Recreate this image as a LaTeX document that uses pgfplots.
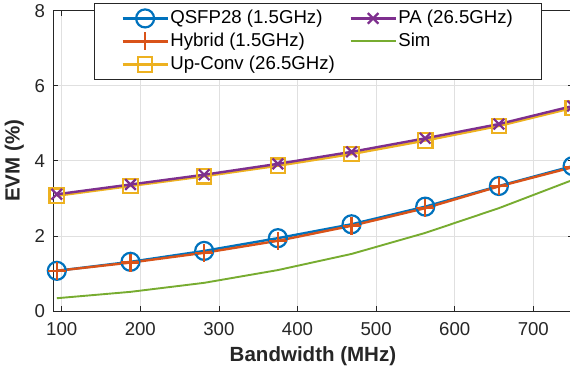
\documentclass[border=0pt]{standalone}
\usepackage{pgfplots}
\pgfplotsset{compat=1.18}
\usepackage{fontspec}
\setmainfont{Liberation Sans}

\definecolor{mblue}{rgb}{0,0.447,0.741}
\definecolor{morange}{rgb}{0.850,0.325,0.098}
\definecolor{myellow}{rgb}{0.929,0.694,0.125}
\definecolor{mpurple}{rgb}{0.494,0.184,0.556}
\definecolor{mgreen}{rgb}{0.466,0.674,0.188}
\definecolor{axgray}{rgb}{0.15,0.15,0.15}
\definecolor{gridgray}{rgb}{0.88,0.88,0.88}

\pgfplotstableread{
x      qsfp  hybrid upconv pa    sim
93.75  1.07  1.07   3.07   3.11  0.34
187.5  1.31  1.29   3.33   3.37  0.51
281.25 1.60  1.55   3.59   3.63  0.75
375    1.94  1.87   3.87   3.92  1.09
468.75 2.31  2.27   4.18   4.24  1.52
562.5  2.78  2.74   4.54   4.60  2.08
656.25 3.33  3.32   4.93   4.98  2.74
750    3.86  3.83   5.41   5.46  3.49
}\evmdata

\begin{document}
\fontsize{18.7pt}{22pt}\selectfont
\begin{tikzpicture}
\begin{axis}[
  scale only axis,
  width=519.3bp, height=300.3bp,
  xmin=89.3, xmax=750, ymin=0, ymax=8,
  xtick={100,200,...,700}, ytick={0,2,4,6,8},
  grid=major,
  major grid style={color=gridgray, line width=0.7bp},
  axis line style={color=axgray, line width=0.8bp},
  tick style={color=axgray, line width=0.8bp},
  tick align=inside, major tick length=5bp,
  /pgf/number format/assume math mode=true,
  ticklabel style={color=axgray, font=\fontsize{18.7pt}{22pt}\selectfont},
  xticklabel style={yshift=-5bp},
  yticklabel style={xshift=-2bp},
  xlabel={Bandwidth (MHz)}, ylabel={EVM (\%)},
  label style={font=\fontsize{20.6pt}{24pt}\selectfont\bfseries, color=axgray},
  xlabel style={yshift=2bp},
  ylabel style={yshift=-2bp},
  legend columns=2,
  legend cell align=left,
  legend image code/.code={%
    \draw[mark repeat=2, mark phase=2] plot coordinates {(0bp,0bp) (22.5bp,0bp) (45bp,0bp)};},
  legend style={
    at={(0.0784,1.0256)}, anchor=north west,
    draw=axgray, line width=0.8bp, fill=white,
    font=\fontsize{18.7pt}{22pt}\selectfont,
    inner xsep=27bp, inner ysep=3.5bp,
    nodes={inner sep=1.5bp, text height=15bp, text depth=5bp},
    /tikz/every even column/.append style={column sep=13bp},
  },
]
\coordinate (sw) at (rel axis cs:0,0);
\coordinate (ne) at (rel axis cs:1,1);

\addplot[forget plot, mblue, line width=2.4bp, mark=o, mark size=9bp,
  mark options={line width=2.2bp}] table[x=x, y=qsfp] {\evmdata};
\addplot[forget plot, morange, line width=2.4bp, mark=+, mark size=9bp,
  mark options={line width=2.2bp}] table[x=x, y=hybrid] {\evmdata};
\addplot[forget plot, myellow, line width=2.4bp, mark=square, mark size=7.2bp,
  mark options={line width=2.2bp}] table[x=x, y=upconv] {\evmdata};
\addplot[forget plot, mpurple, line width=2.4bp, mark=x, mark size=7.5bp,
  mark options={line width=2.2bp}] table[x=x, y=pa] {\evmdata};
\addplot[forget plot, mgreen, line width=1.9bp] table[x=x, y=sim] {\evmdata};

% legend entries, filled row by row
\addlegendimage{mblue, line width=2.4bp, mark=o, mark size=9bp, mark options={line width=2.2bp}}
\addlegendentry{QSFP28 (1.5GHz)}
\addlegendimage{mpurple, line width=2.4bp, mark=x, mark size=7.5bp, mark options={line width=2.2bp}}
\addlegendentry{PA (26.5GHz)}
\addlegendimage{morange, line width=2.4bp, mark=+, mark size=9bp, mark options={line width=2.2bp}}
\addlegendentry{Hybrid (1.5GHz)}
\addlegendimage{mgreen, line width=1.9bp}
\addlegendentry{Sim}
\addlegendimage{myellow, line width=2.4bp, mark=square, mark size=7.2bp, mark options={line width=2.2bp}}
\addlegendentry{Up-Conv (26.5GHz)}
\end{axis}
\pgfresetboundingbox
\useasboundingbox ([xshift=-53.3bp,yshift=-66bp]sw) rectangle ([xshift=-2.6bp,yshift=10.7bp]ne);
\end{tikzpicture}
\end{document}
